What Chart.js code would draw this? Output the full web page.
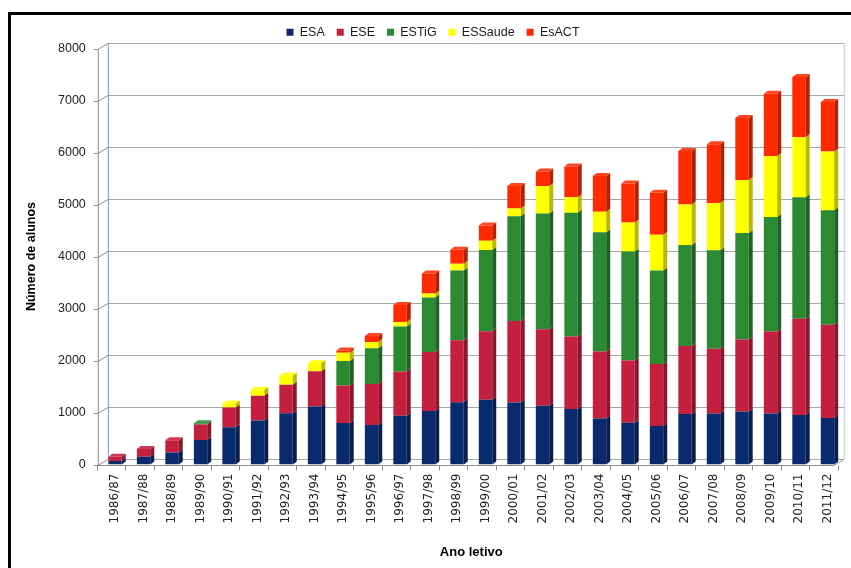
<!DOCTYPE html>
<html>
<head>
<meta charset="utf-8">
<script src="https://cdn.jsdelivr.net/npm/chart.js@4/dist/chart.umd.min.js"></script>
<style>
html,body{margin:0;padding:0;background:#fff;}
#wrap{position:relative;width:851px;height:568px;}
</style>
</head>
<body>
<div id="wrap"><canvas id="c" width="851" height="568"></canvas></div>
<script>
const categories = ['1986/87','1987/88','1988/89','1989/90','1990/91','1991/92','1992/93','1993/94','1994/95','1995/96','1996/97','1997/98','1998/99','1999/00','2000/01','2001/02','2002/03','2003/04','2004/05','2005/06','2006/07','2007/08','2008/09','2009/10','2010/11','2011/12'];
const ESA     = [70,150,230,470,715,845,985,1115,800,760,940,1030,1200,1245,1195,1130,1070,885,805,740,970,980,1020,980,955,895];
const ESE     = [80,150,235,300,380,480,550,680,720,790,850,1135,1190,1320,1565,1470,1390,1290,1195,1195,1310,1245,1385,1580,1850,1795];
const ESTiG   = [0,0,0,25,0,0,0,0,470,685,865,1045,1340,1560,2015,2225,2380,2290,2095,1795,1940,1895,2045,2200,2335,2200];
const ESSaude = [0,0,0,0,80,115,175,160,160,120,85,80,130,180,150,530,300,395,560,690,780,910,1020,1175,1160,1130];
const EsACT   = [0,0,0,0,0,0,0,0,45,115,330,385,270,290,430,280,590,690,750,805,1030,1130,1195,1195,1150,950];
const yTicks  = [0,1000,2000,3000,4000,5000,6000,7000,8000];

const seriesNames  = ['ESA','ESE','ESTiG','ESSaude','EsACT'];
const seriesValues = [ESA, ESE, ESTiG, ESSaude, EsACT];
const seriesColors = ['#0a2a6e','#c41f3e','#2b8a32','#ffff00','#ff2a00'];

function shade(hex, f){
  const n = parseInt(hex.slice(1),16);
  let r=(n>>16)&255,g=(n>>8)&255,b=n&255;
  if(f<1){r=Math.round(r*f);g=Math.round(g*f);b=Math.round(b*f);}
  else {const t=f-1; r=Math.round(r+(255-r)*t);g=Math.round(g+(255-g)*t);b=Math.round(b+(255-b)*t);}
  return 'rgb('+r+','+g+','+b+')';
}

const DX = 10, DY = 6;   // depth offsets of the back wall
const BD = 4, BV = 3;    // depth of bar sides

const framePlugin = {
  id:'frame',
  beforeDraw(chart){
    const ctx = chart.ctx;
    ctx.save();
    ctx.fillStyle = '#000';
    ctx.fillRect(8, 12, 3, 568);
    ctx.fillRect(8, 12, 851, 3);
    ctx.restore();
  },
  beforeDatasetsDraw(chart){
    const ctx = chart.ctx, a = chart.chartArea, ys = chart.scales.y, xs = chart.scales.x;
    const fx = a.left - 3;
    ctx.save();
    ctx.lineWidth = 1;
    yTicks.forEach(v=>{
      const y = Math.round(ys.getPixelForValue(v)) + 0.5;
      ctx.strokeStyle = '#a6a6a6';
      ctx.beginPath(); ctx.moveTo(fx + DX, y - DY); ctx.lineTo(a.right + 2, y - DY); ctx.stroke();
      ctx.strokeStyle = '#8c8c8c';
      ctx.beginPath(); ctx.moveTo(fx, y); ctx.lineTo(fx + DX, y - DY); ctx.stroke();
      ctx.beginPath(); ctx.moveTo(fx - 4, y); ctx.lineTo(fx, y); ctx.stroke();
    });
    const top = Math.round(ys.getPixelForValue(8000)) + 0.5;
    const bot = Math.round(ys.getPixelForValue(0)) + 0.5;
    ctx.strokeStyle = '#6f97d6';
    ctx.beginPath(); ctx.moveTo(fx + DX + 0.5, top - DY); ctx.lineTo(fx + DX + 0.5, bot - DY); ctx.stroke();
    ctx.strokeStyle = '#b9c9e3';
    ctx.beginPath(); ctx.moveTo(a.right + 2.5, top - DY); ctx.lineTo(a.right + 2.5, bot - DY); ctx.stroke();
    ctx.strokeStyle = '#8c8c8c';
    ctx.beginPath(); ctx.moveTo(fx + 0.5, top); ctx.lineTo(fx + 0.5, bot); ctx.stroke();
    ctx.beginPath(); ctx.moveTo(fx, bot); ctx.lineTo(a.right - DX + 2, bot); ctx.lineTo(a.right + 2, bot - DY); ctx.stroke();
    for(let i=0;i<=categories.length;i++){
      const x = Math.round(xs.left + (xs.right - xs.left) * i / categories.length - 4) + 0.5;
      ctx.beginPath(); ctx.moveTo(x, bot); ctx.lineTo(x, bot + 5); ctx.stroke();
    }
    ctx.restore();
  },
  afterDatasetsDraw(chart){
    const ctx = chart.ctx;
    const n = categories.length;
    const topIdx = new Array(n).fill(-1);
    chart.data.datasets.forEach((ds, di)=>{ ds.data.forEach((v,i)=>{ if(v>0) topIdx[i]=di; }); });
    ctx.save();
    chart.data.datasets.forEach((ds, di)=>{
      const meta = chart.getDatasetMeta(di);
      meta.data.forEach((bar, i)=>{
        if(!(ds.data[i] > 0)) return;
        const p = bar.getProps(['x','y','base','width'], true);
        const l = p.x - p.width/2, r = p.x + p.width/2;
        ctx.fillStyle = shade(seriesColors[di], 0.72);
        ctx.beginPath();
        ctx.moveTo(r, p.y); ctx.lineTo(r + BD, p.y - BV); ctx.lineTo(r + BD, p.base - BV); ctx.lineTo(r, p.base);
        ctx.closePath(); ctx.fill();
        if(topIdx[i] === di){
          ctx.fillStyle = shade(seriesColors[di], 1.12);
          ctx.beginPath();
          ctx.moveTo(l, p.y); ctx.lineTo(l + BD, p.y - BV); ctx.lineTo(r + BD, p.y - BV); ctx.lineTo(r, p.y);
          ctx.closePath(); ctx.fill();
        }
      });
    });
    ctx.restore();
  }
};

new Chart(document.getElementById('c'), {
  type:'bar',
  data:{
    labels: categories,
    datasets: seriesNames.map((name, k)=>({
      label: name,
      data: seriesValues[k],
      backgroundColor: seriesColors[k],
      borderWidth: 0,
      barPercentage: 0.47,
      categoryPercentage: 1.0
    }))
  },
  options:{
    responsive:false,
    animation:false,
    devicePixelRatio:1,
    layout:{ padding:{ top:14, left:20, right:5, bottom:4 } },
    plugins:{
      legend:{
        position:'top',
        labels:{ boxWidth:7, boxHeight:7, padding:12, color:'#1a1a1a',
                 font:{ family:'"Liberation Sans", Arial, sans-serif', size:12.5 } }
      },
      tooltip:{ enabled:false }
    },
    scales:{
      x:{
        stacked:true,
        grid:{ display:false, drawTicks:false, tickLength:0 },
        border:{ display:false },
        ticks:{ minRotation:90, maxRotation:90, autoSkip:false, padding:9, color:'#222',
                font:{ family:'"DejaVu Sans", Verdana, sans-serif', size:12 } },
        title:{ display:true, text:'Ano letivo', color:'#000', padding:{ top:12, bottom:4 },
                font:{ family:'"Liberation Sans", Arial, sans-serif', size:13, weight:'bold' } }
      },
      y:{
        stacked:true,
        min:0, max:8000,
        afterBuildTicks(scale){ scale.ticks = yTicks.map(v=>({value:v})); },
        grid:{ display:false, drawTicks:false, tickLength:0 },
        border:{ display:false },
        ticks:{ padding:15, color:'#222', callback:(v)=>String(v),
                font:{ family:'"Liberation Sans", Arial, sans-serif', size:12.5 } },
        title:{ display:true, text:'Número de alunos', color:'#000', padding:{ top:4, bottom:4 },
                font:{ family:'"Liberation Sans", Arial, sans-serif', size:12.5, weight:'bold' } }
      }
    }
  },
  plugins:[framePlugin]
});
</script>
</body>
</html>
